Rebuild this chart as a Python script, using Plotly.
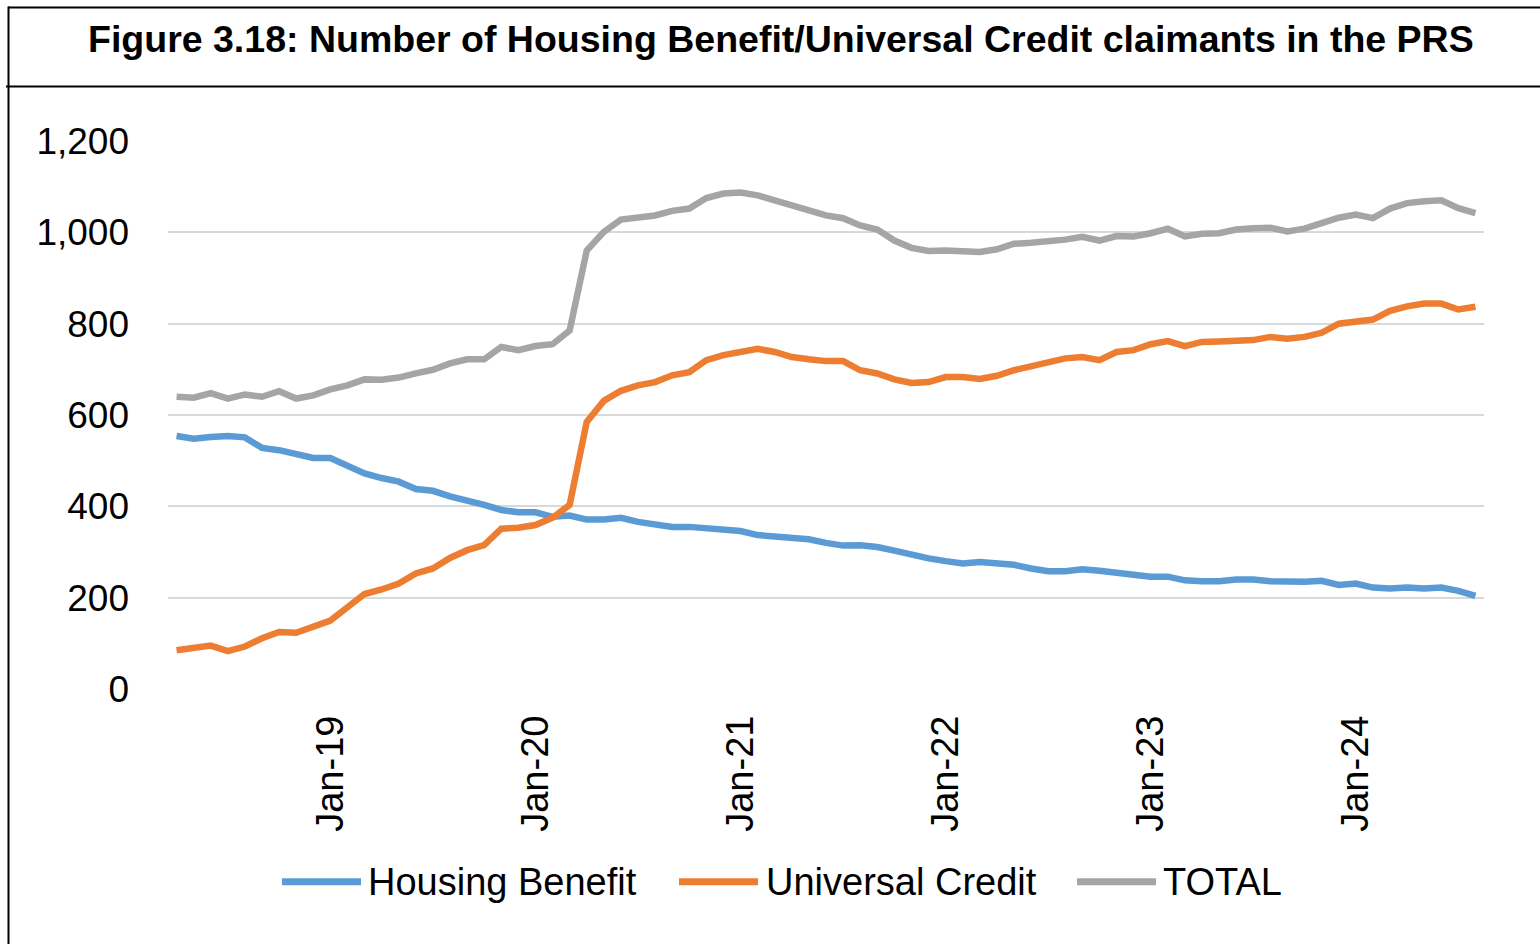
import plotly.graph_objects as go

months = [
    "Apr-18", "May-18", "Jun-18", "Jul-18", "Aug-18", "Sep-18", "Oct-18", "Nov-18", "Dec-18",
    "Jan-19", "Feb-19", "Mar-19", "Apr-19", "May-19", "Jun-19", "Jul-19", "Aug-19", "Sep-19", "Oct-19", "Nov-19", "Dec-19",
    "Jan-20", "Feb-20", "Mar-20", "Apr-20", "May-20", "Jun-20", "Jul-20", "Aug-20", "Sep-20", "Oct-20", "Nov-20", "Dec-20",
    "Jan-21", "Feb-21", "Mar-21", "Apr-21", "May-21", "Jun-21", "Jul-21", "Aug-21", "Sep-21", "Oct-21", "Nov-21", "Dec-21",
    "Jan-22", "Feb-22", "Mar-22", "Apr-22", "May-22", "Jun-22", "Jul-22", "Aug-22", "Sep-22", "Oct-22", "Nov-22", "Dec-22",
    "Jan-23", "Feb-23", "Mar-23", "Apr-23", "May-23", "Jun-23", "Jul-23", "Aug-23", "Sep-23", "Oct-23", "Nov-23", "Dec-23",
    "Jan-24", "Feb-24", "Mar-24", "Apr-24", "May-24", "Jun-24", "Jul-24", "Aug-24",
]

housing_benefit = [
    554, 548, 552, 554, 551, 528, 523, 516, 506, 506,
    488, 472, 462, 454, 438, 434, 422, 414, 403, 392,
    387, 387, 377, 380, 371, 371, 375, 366, 362, 355,
    355, 351, 350, 346, 337, 335, 333, 328, 320, 314,
    315, 311, 303, 293, 286, 280, 275, 278, 276, 272,
    264, 258, 258, 262, 259, 254, 251, 246, 246, 238,
    236, 236, 240, 240, 236, 234, 235, 237, 228, 231,
    222, 220, 222, 220, 222, 215, 204,
]

universal_credit = [
    85, 89, 95, 83, 93, 111, 125, 123, 138, 150,
    179, 208, 218, 231, 253, 264, 287, 304, 315, 351,
    353, 359, 375, 403, 585, 631, 653, 665, 672, 687,
    694, 720, 731, 737, 745, 738, 727, 722, 718, 718,
    698, 691, 678, 670, 672, 683, 683, 679, 686, 698,
    707, 716, 724, 727, 720, 738, 742, 755, 762, 751,
    760, 761, 763, 764, 771, 767, 771, 780, 800, 804,
    809, 828, 838, 844, 844, 831, 837,
]

total = [
    640, 638, 648, 636, 645, 640, 652, 636, 643, 656,
    665, 678, 677, 682, 691, 699, 713, 722, 722, 749,
    742, 751, 755, 785, 960, 1001, 1028, 1033, 1037, 1047,
    1052, 1075, 1085, 1087, 1081, 1070, 1059, 1050, 1037, 1031,
    1015, 1006, 982, 966, 959, 960, 957, 957, 963, 975,
    977, 979, 984, 990, 982, 992, 991, 998, 1008, 991,
    997, 998, 1006, 1009, 1010, 1002, 1008, 1020, 1032, 1039,
    1031, 1052, 1064, 1068, 1070, 1053, 1042,
]

x_tick_labels = ["Jan-19", "Jan-20", "Jan-21", "Jan-22", "Jan-23", "Jan-24"]
y_tick_values = [0, 200, 400, 600, 800, 1000, 1200]
y_tick_labels = ["0", "200", "400", "600", "800", "1,000", "1,200"]

series_names = ["Housing Benefit", "Universal Credit", "TOTAL"]
series_values = [housing_benefit, universal_credit, total]
series_colors = ["#5B9BD5", "#ED7D31", "#A5A5A5"]

title_text = "Figure 3.18: Number of Housing Benefit/Universal Credit claimants in the PRS"

# ---------------- layout geometry (pixels) ----------------
W, H = 1540, 944
L, R, T, B = 168, 56, 140.6, 255
PW, PH = W - L - R, H - T - B


def px(x):
    return (x - L) / PW


def py(y):
    return (H - B - y) / PH


NARROW = "Liberation Sans Narrow, Arial Narrow, Liberation Sans, Arial, sans-serif"
BOLD = "Liberation Sans, Arial, sans-serif"

fig = go.Figure()
for name, vals, col in zip(series_names, series_values, series_colors):
    fig.add_trace(go.Scatter(
        x=months, y=vals, mode="lines", name=name,
        line=dict(color=col, width=6.5),
        showlegend=False,
    ))

shapes = []
# frame lines around the title box
shapes.append(dict(type="line", xref="paper", yref="paper",
                   x0=px(8), x1=px(W + 5), y0=py(7), y1=py(7),
                   line=dict(color="black", width=2)))
shapes.append(dict(type="line", xref="paper", yref="paper",
                   x0=px(6), x1=px(W + 5), y0=py(86), y1=py(86),
                   line=dict(color="black", width=2)))
shapes.append(dict(type="line", xref="paper", yref="paper",
                   x0=px(8.5), x1=px(8.5), y0=py(6), y1=py(H + 5),
                   line=dict(color="black", width=2)))

annotations = []
# legend drawn as line swatches + text
legend_items = [(282, 361, 366), (679, 758, 764), (1077, 1156, 1161)]
legend_y = 882
for (lx0, lx1, tx), name, col in zip(legend_items, series_names, series_colors):
    shapes.append(dict(type="line", xref="paper", yref="paper",
                       x0=px(lx0), x1=px(lx1), y0=py(legend_y), y1=py(legend_y),
                       line=dict(color=col, width=7)))
    annotations.append(dict(xref="paper", yref="paper", x=px(tx), y=py(legend_y),
                            xanchor="left", yanchor="middle", showarrow=False,
                            text=name, font=dict(family=NARROW, size=38, color="black")))

annotations.append(dict(xref="paper", yref="paper", x=px(781), y=py(39),
                        xanchor="center", yanchor="middle", showarrow=False,
                        text="<b>" + title_text + "</b>",
                        font=dict(family=BOLD, size=37.5, color="black")))

fig.update_layout(
    width=W, height=H,
    margin=dict(l=L, r=R, t=T, b=B, pad=0),
    paper_bgcolor="white", plot_bgcolor="white",
    shapes=shapes, annotations=annotations,
    showlegend=False,
    xaxis=dict(
        type="category", range=[-0.5, len(months) - 0.5],
        tickmode="array", tickvals=x_tick_labels, ticktext=x_tick_labels,
        tickangle=-90, showgrid=False, zeroline=False, showline=False,
        ticks="", ticklabelstandoff=18,
        tickfont=dict(family=NARROW, size=38, color="black"),
    ),
    yaxis=dict(
        range=[0, 1200], tickmode="array", tickvals=y_tick_values, ticktext=y_tick_labels,
        showgrid=True, gridcolor="#D9D9D9", gridwidth=2, zeroline=False, showline=False,
        ticks="", ticklabelstandoff=38,
        tickfont=dict(family=NARROW, size=37, color="black"),
    ),
)

fig.write_html("out.html", config={"displayModeBar": False},
               post_script="document.body.style.margin='0';")
